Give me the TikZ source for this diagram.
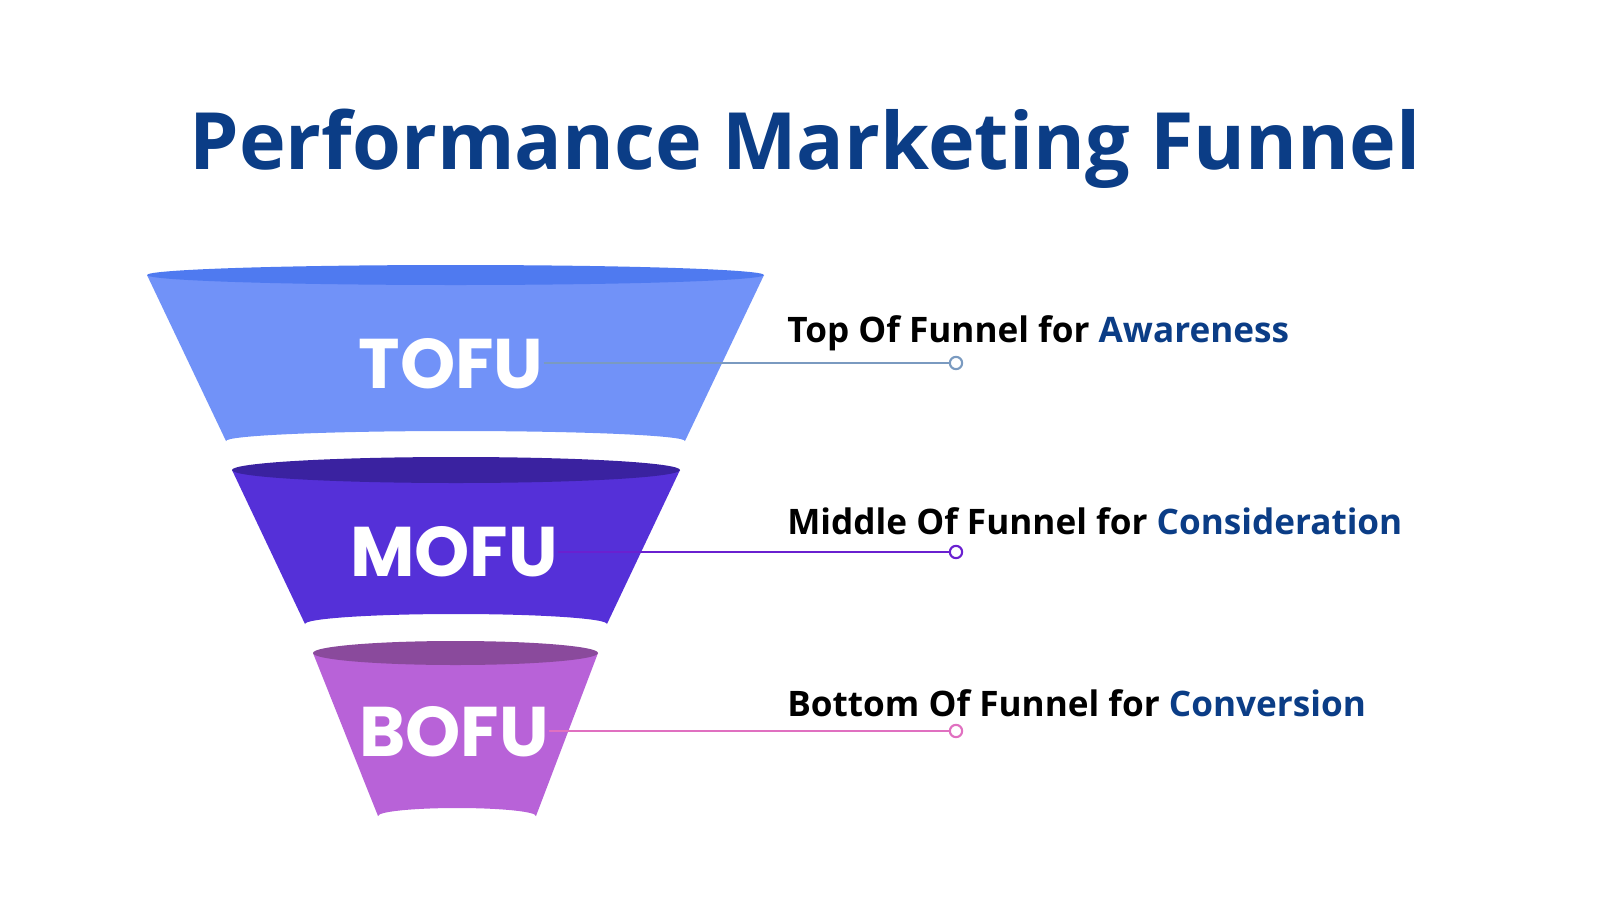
\documentclass[tikz,border=0pt]{standalone}
\usepackage{fontspec}
\setmainfont{Open Sans}
\newfontfamily\popp{Poppins}
\begin{document}
\begin{tikzpicture}[x=0.02cm,y=-0.02cm,
  lbl/.style={font=\fontsize{20}{24}\selectfont\bfseries, anchor=west, inner sep=0},
  stage/.style={font=\popp\fontsize{40}{44}\selectfont\bfseries, text=white, inner sep=0},
  dot/.style={circle, draw, line width=1.2pt, fill=white, inner sep=0, minimum size=7pt}]
\definecolor{ttl}{HTML}{0B3D86}
\definecolor{tofuF}{HTML}{7192F8}\definecolor{tofuT}{HTML}{4F7AF0}\definecolor{tofuL}{HTML}{7A9AC0}
\definecolor{mofuF}{HTML}{5530D8}\definecolor{mofuT}{HTML}{3A22A0}\definecolor{mofuL}{HTML}{6A20D0}
\definecolor{bofuF}{HTML}{B862D8}\definecolor{bofuT}{HTML}{8A4A9C}\definecolor{bofuL}{HTML}{E070C0}
\useasboundingbox[fill=white] (0,0) rectangle (1600,900);
\node[font=\fontsize{45}{50}\selectfont\bfseries, text=ttl] (title) at (805,149) {Performance Marketing Funnel};
% TOFU
\fill[tofuF] (147,275) -- (226,441) arc[start angle=180,end angle=360,x radius=229.5,y radius=10] -- (764,275) -- cycle;
\fill[tofuT] (455.5,275) ellipse[x radius=308.5,y radius=10];
% MOFU
\fill[mofuF] (232,470) -- (305,624) arc[start angle=180,end angle=360,x radius=151,y radius=10] -- (680,470) -- cycle;
\fill[mofuT] (456,470) ellipse[x radius=224,y radius=13];
% BOFU
\fill[bofuF] (313,653) -- (378,816) arc[start angle=180,end angle=360,x radius=79,y radius=8] -- (598,653) -- cycle;
\fill[bofuT] (455.5,653) ellipse[x radius=142.5,y radius=12];
% labels
\node[stage] (tofu) at (451,364) {TOFU};
\node[stage] (mofu) at (454,552) {MOFU};
\node[stage] (bofu) at (454,732) {BOFU};
\node[dot, draw=tofuL] (d1) at (956,363) {};
\node[dot, draw=mofuL] (d2) at (956,552) {};
\node[dot, draw=bofuL] (d3) at (956,731) {};
\draw[tofuL, line width=1.4pt] (tofu.east |- d1) -- (d1);
\draw[mofuL, line width=1.4pt] (mofu.east |- d2) -- (d2);
\draw[bofuL, line width=1.4pt] (bofu.east |- d3) -- (d3);
\node[lbl] (t1) at (787,333) {Top Of Funnel for \textcolor{ttl}{Awareness}};
\node[lbl] (t2) at (787,521) {Middle Of Funnel for \textcolor{ttl}{Consideration}};
\node[lbl] (t3) at (787,703) {Bottom Of Funnel for \textcolor{ttl}{Conversion}};
\end{tikzpicture}
\end{document}
